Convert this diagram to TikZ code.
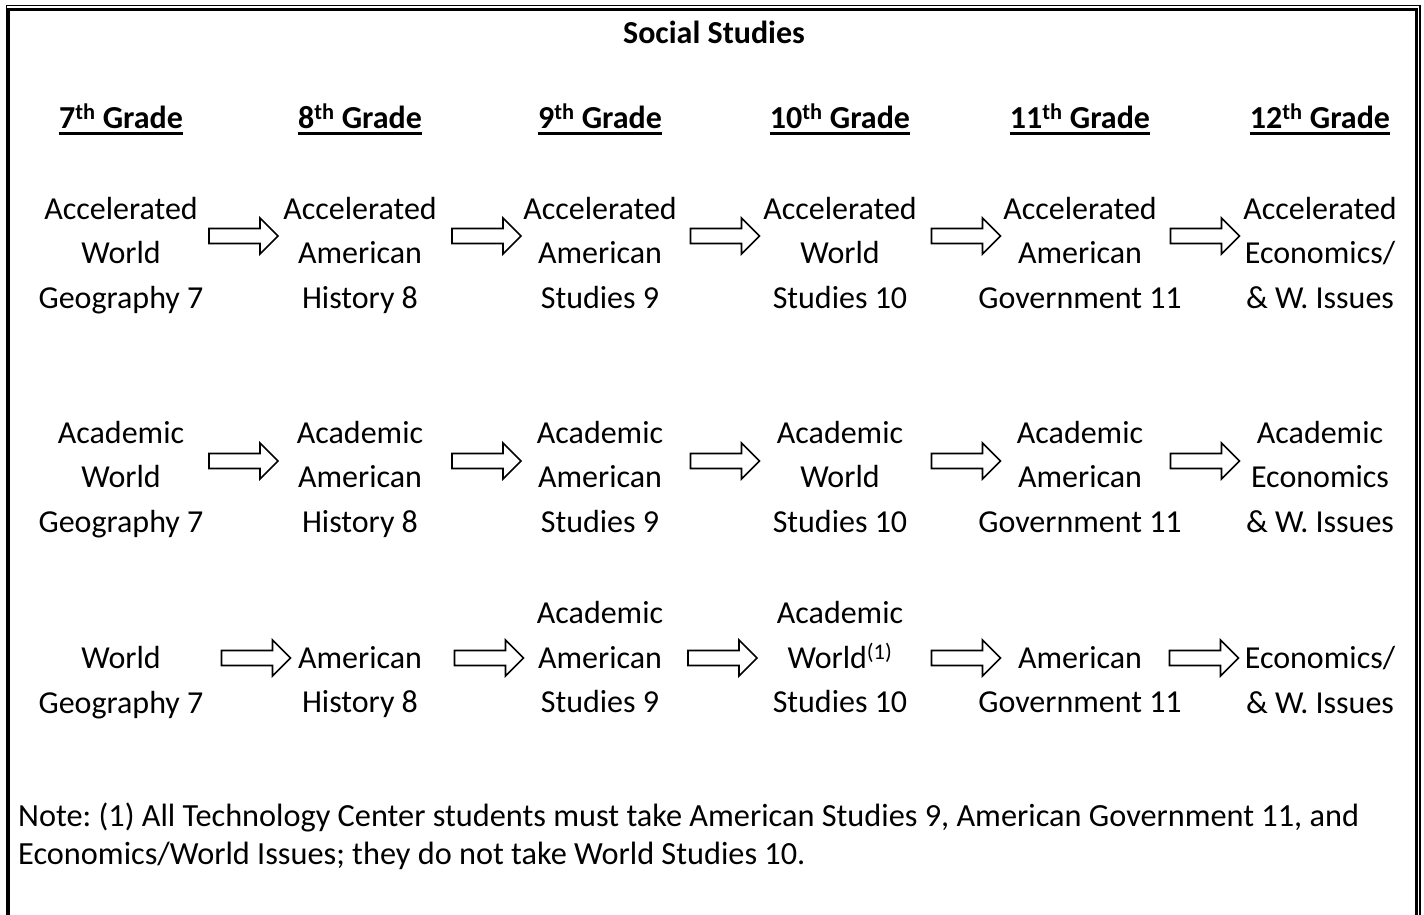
\documentclass[tikz,border=0pt]{standalone}
\usepackage{fontspec}
\setmainfont{Carlito}
\frenchspacing

\newcommand\coursefont{\fontsize{32}{44.5}\selectfont}
\newcommand\notefont{\fontsize{32.3}{37.5}\selectfont}

\tikzset{
  course/.style={align=center, inner sep=0pt, font=\coursefont,
    execute at begin node=\strut, execute at end node=\strut},
  gradehead/.style={anchor=base, inner sep=0pt, font=\coursefont\bfseries},
  headrule/.style={line width=2.4pt},
  % hollow block arrow, 69pt long, centred on its origin
  blockarrow/.pic={
    \draw[line width=1.6pt, line join=miter, fill=white]
      (-34.5,-7.5) -- (16.5,-7.5) -- (16.5,-18) -- (34.5,0)
      -- (16.5,18) -- (16.5,7.5) -- (-34.5,7.5) -- cycle;
  }
}

\begin{document}
\begin{tikzpicture}[x=1pt, y=-1pt]
  \useasboundingbox (0,0) rectangle (1424,915);

  % double frame: thin outer line, heavy inner line
  \draw[line width=1.5pt] (6.5,915) -- (6.5,5.5) -- (1420,5.5) -- (1420,915);
  \draw[line width=3pt] (8,915) -- (8,9.5) -- (1416,9.5) -- (1416,915);

  % title
  \node[anchor=base, inner sep=0pt, font=\coursefont\bfseries] (title) at (714,44) {Social Studies};

  % grade headings
  \foreach \g/\x in {7/121, 8/360, 9/600, 10/840, 11/1080, 12/1320} {
    \node[gradehead] (h\g) at (\x,128.5) {\g\textsuperscript{th} Grade};
    \draw[headrule] ([yshift=-5pt]h\g.base west) -- ([yshift=-5pt]h\g.base east);
  }

  % accelerated track
  \node[course] (r1c7)  at (121,259.5)  {Accelerated\\World\\Geography 7};
  \node[course] (r1c8)  at (360,259.5)  {Accelerated\\American\\History 8};
  \node[course] (r1c9)  at (600,259.5)  {Accelerated\\American\\Studies 9};
  \node[course] (r1c10) at (840,259.5)  {Accelerated\\World\\Studies 10};
  \node[course] (r1c11) at (1080,259.5) {Accelerated\\American\\Government 11};
  \node[course] (r1c12) at (1320,259.5) {Accelerated\\Economics/\\\& W. Issues};

  % academic track
  \node[course] (r2c7)  at (121,483.5)  {Academic\\World\\Geography 7};
  \node[course] (r2c8)  at (360,483.5)  {Academic\\American\\History 8};
  \node[course] (r2c9)  at (600,483.5)  {Academic\\American\\Studies 9};
  \node[course] (r2c10) at (840,483.5)  {Academic\\World\\Studies 10};
  \node[course] (r2c11) at (1080,483.5) {Academic\\American\\Government 11};
  \node[course] (r2c12) at (1320,483.5) {Academic\\Economics\\\& W. Issues};

  % general track
  \node[course] (r3c7)  at (121,686.4)  {World\\Geography 7};
  \node[course] (r3c8)  at (360,686.4)  {American\\History 8};
  \node[course] (r3c9)  at (600,664)    {Academic\\American\\Studies 9};
  \node[course] (r3c10) at (840,664)    {Academic\\World\textsuperscript{(1)}\\Studies 10};
  \node[course] (r3c11) at (1080,686.4) {American\\Government 11};
  \node[course] (r3c12) at (1320,686.4) {Economics/\\\& W. Issues};

  % block arrows between the years
  \foreach \r/\y in {1/236, 2/461} {
    \pic (a\r a) at (243.5,\y) {blockarrow};
    \pic (a\r b) at (486.5,\y) {blockarrow};
    \pic (a\r c) at (725,\y) {blockarrow};
    \pic (a\r d) at (966,\y) {blockarrow};
    \pic (a\r e) at (1205,\y) {blockarrow};
  }
  \pic (a3a) at (256,658) {blockarrow};
  \pic (a3b) at (489,658) {blockarrow};
  \pic (a3c) at (722.5,658) {blockarrow};
  \pic (a3d) at (966,658) {blockarrow};
  \pic (a3e) at (1204,658) {blockarrow};

  % footnote
  \node[anchor=north west, align=left, inner sep=0pt, font=\notefont,
        execute at begin node=\strut] (note) at (18,802.75)
    {Note: (1) All Technology Center students must take American Studies 9, American Government 11, and\\
     Economics/World Issues; they do not take World Studies 10.};
\end{tikzpicture}
\end{document}
